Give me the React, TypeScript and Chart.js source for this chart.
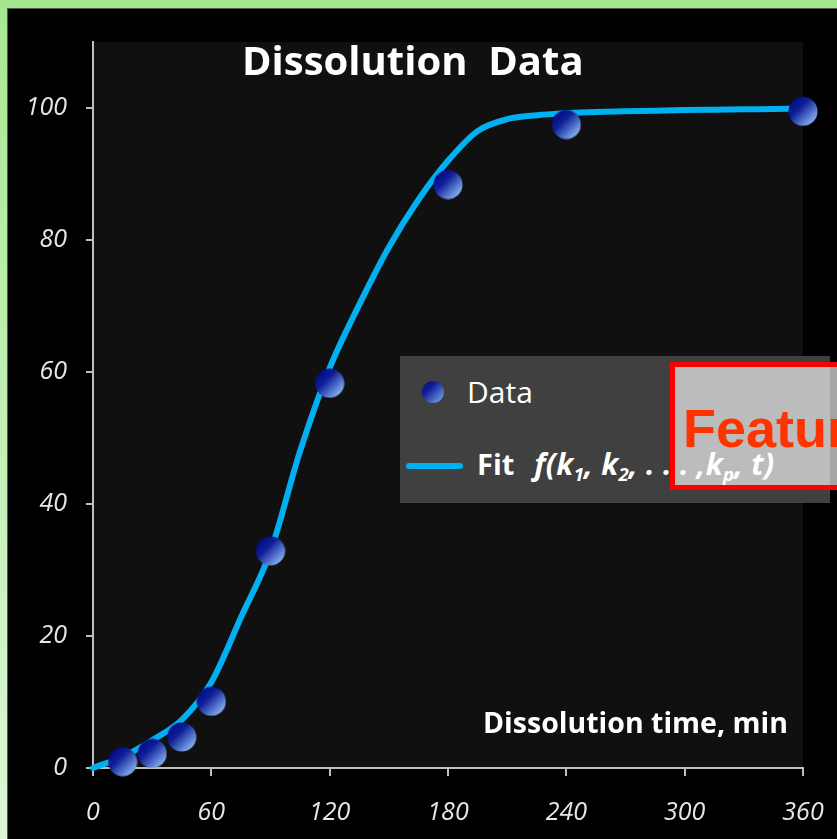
import React, { useEffect, useRef } from "react";
import { Chart, registerables } from "chart.js";

Chart.register(...registerables);

// Measured dissolution (time in min, % dissolved)
const timeMin = [15, 30, 45, 60, 90, 120, 180, 240, 360];
const dissolvedPct = [0.95, 2.2, 4.7, 10.1, 32.9, 58.3, 88.4, 97.5, 99.5];

// Fitted model curve f(k1, k2, ..., kp, t), sampled every 15 min
const fitTime = [0, 15, 30, 45, 60, 75, 90, 105, 120, 135, 150, 165, 180, 195, 210, 225, 240, 255, 270, 285, 300, 315, 330, 345, 360];
const fitPct = [0, 1.7, 4.2, 7.3, 13.0, 22.8, 32.8, 48.0, 60.6, 70.2, 78.9, 86.1, 92.0, 96.5, 98.3, 98.9, 99.2, 99.4, 99.5, 99.6, 99.7, 99.75, 99.8, 99.85, 99.9];

const xMin = 0;
const xMax = 360;
const xStep = 60;
const yMin = 0;
const yMax = 110;
const yStep = 20;

const titleText = "Dissolution  Data";
const xAxisTitle = "Dissolution time, min";
const dataLabel = "Data";
const fitLabel = "Fit";
const stampText = "Featured";

const W = 837;
const H = 839;

function makeSphere(size: number): HTMLCanvasElement {
  const c = document.createElement("canvas");
  c.width = size;
  c.height = size;
  const g = c.getContext("2d")!;
  const r = size / 2 - 0.5;
  const grad = g.createLinearGradient(size * 0.15, size * 0.15, size * 0.85, size * 0.85);
  grad.addColorStop(0, "#020c84");
  grad.addColorStop(0.35, "#0f1f98");
  grad.addColorStop(1, "#86b2f0");
  g.beginPath();
  g.arc(size / 2, size / 2, r, 0, Math.PI * 2);
  g.fillStyle = grad;
  g.fill();
  return c;
}

const plotBackground = {
  id: "plotBackground",
  beforeDraw(chart: any) {
    const { ctx, chartArea } = chart;
    ctx.save();
    ctx.fillStyle = "#101010";
    ctx.fillRect(chartArea.left, chartArea.top, chartArea.right - chartArea.left, chartArea.bottom - chartArea.top);
    ctx.restore();
  },
};

export default function App() {
  const canvasRef = useRef<HTMLCanvasElement | null>(null);

  useEffect(() => {
    const canvas = canvasRef.current;
    if (!canvas) return;
    const sphere = makeSphere(30);
    const axisColor = "#bfbfbf";
    const yTickFont = { family: "'Open Sans', sans-serif", size: 25, style: "italic" as const };
    // taller line box pushes the x labels down without widening the axis padding
    const xTickFont = { family: "'Open Sans', sans-serif", size: 25, style: "italic" as const, lineHeight: 2 };

    const chart = new Chart(canvas, {
      type: "line",
      data: {
        datasets: [
          {
            label: dataLabel,
            data: timeMin.map((t, i) => ({ x: t, y: dissolvedPct[i] })),
            showLine: false,
            pointStyle: sphere as any,
            pointRadius: 15,
            clip: false as any,
          },
          {
            label: fitLabel,
            data: fitTime.map((t, i) => ({ x: t, y: fitPct[i] })),
            borderColor: "#00b0f0",
            borderWidth: 6,
            pointRadius: 0,
            cubicInterpolationMode: "monotone",
            borderCapStyle: "round",
            clip: false as any,
          },
        ],
      },
      options: {
        responsive: false,
        animation: false,
        events: [],
        layout: { padding: { left: 0, top: 42, right: 34, bottom: 0 }, autoPadding: false } as any,
        plugins: {
          legend: { display: false },
          tooltip: { enabled: false },
          title: { display: false },
        },
        scales: {
          x: {
            type: "linear",
            min: xMin,
            max: xMax,
            ticks: { stepSize: xStep, color: "#e6e6e6", font: xTickFont, padding: 12, maxRotation: 0 },
            grid: { display: true, drawOnChartArea: false, drawTicks: true, tickLength: 8, color: axisColor, lineWidth: 2 },
            border: { display: true, color: axisColor, width: 2 },
            afterFit: (scale: any) => {
              scale.height = 71;
            },
          },
          y: {
            type: "linear",
            min: yMin,
            max: yMax,
            ticks: { stepSize: yStep, includeBounds: false, color: "#e6e6e6", font: yTickFont, padding: 19 },
            grid: { display: true, drawOnChartArea: false, drawTicks: true, tickLength: 7, color: axisColor, lineWidth: 2 },
            border: { display: true, color: axisColor, width: 2 },
            afterFit: (scale: any) => {
              scale.width = 93;
            },
          },
        },
      },
      plugins: [plotBackground],
    });
    return () => chart.destroy();
  }, []);

  const white = "#ffffff";
  const sans = "'Open Sans', sans-serif";
  const sub = { fontSize: "0.62em", verticalAlign: "-0.3em" };

  return (
    <div style={{ position: "absolute", left: 0, top: 0, width: W, height: H, background: "#000", overflow: "hidden" }}>
      <canvas ref={canvasRef} width={W} height={H} style={{ position: "absolute", left: 0, top: 0, width: W, height: H }} />

      {/* frame */}
      <div style={{ position: "absolute", left: 0, top: 0, width: W, height: 8, background: "#a6e690" }} />
      <div style={{ position: "absolute", left: 0, top: 8, width: W, height: 1, background: "#4b5e47" }} />
      <div style={{ position: "absolute", left: 0, top: 8, width: 7, height: H - 8, background: "linear-gradient(#a8e892, #dcf6d6)" }} />
      <div style={{ position: "absolute", left: 7, top: 9, width: 1, height: H - 9, background: "#4b5e47" }} />

      {/* chart title */}
      <div style={{ position: "absolute", left: 242, top: 40, font: `bold 40px ${sans}`, lineHeight: "40px", color: white, whiteSpace: "pre" }}>
        {titleText}
      </div>

      {/* axis title */}
      <div style={{ position: "absolute", left: 483, top: 708, font: `bold 28.5px ${sans}`, lineHeight: "28.5px", color: white, whiteSpace: "pre" }}>
        {xAxisTitle}
      </div>

      {/* legend */}
      <div style={{ position: "absolute", left: 400, top: 356, width: 430, height: 147, background: "#404040" }}>
        <div
          style={{
            position: "absolute",
            left: 22,
            top: 25,
            width: 22,
            height: 22,
            borderRadius: "50%",
            background: "linear-gradient(135deg, #020c84 0%, #0f1f98 35%, #86b2f0 100%)",
          }}
        />
        <div style={{ position: "absolute", left: 67, top: 21, font: `30px ${sans}`, lineHeight: "30px", color: white, whiteSpace: "pre" }}>
          {dataLabel}
        </div>
        <div style={{ position: "absolute", left: 6, top: 107, width: 57, height: 6, borderRadius: 3, background: "#00b0f0" }} />
        <div style={{ position: "absolute", left: 77, top: 93, font: `bold 29px ${sans}`, lineHeight: "29px", color: white, whiteSpace: "pre" }}>
          {fitLabel}
          <span style={{ fontStyle: "italic", fontSize: "30px", marginLeft: 20, letterSpacing: "0.3px" }}>
            {"f(k"}
            <span style={sub}>1</span>
            {", k"}
            <span style={sub}>2</span>
            {", . . . ,k"}
            <span style={sub}>p</span>
            {", t)"}
          </span>
        </div>
      </div>

      {/* stamp overlay */}
      <div
        style={{
          position: "absolute",
          left: 670,
          top: 362,
          width: 220,
          height: 128,
          boxSizing: "border-box",
          border: "5px solid #ff0000",
          background: "rgba(255,255,255,0.65)",
        }}
      />
      <div style={{ position: "absolute", left: 683, top: 401, font: `bold 54px 'Liberation Sans', Arial, sans-serif`, lineHeight: "54px", color: "#ff3300", whiteSpace: "pre" }}>
        {stampText}
      </div>
    </div>
  );
}
